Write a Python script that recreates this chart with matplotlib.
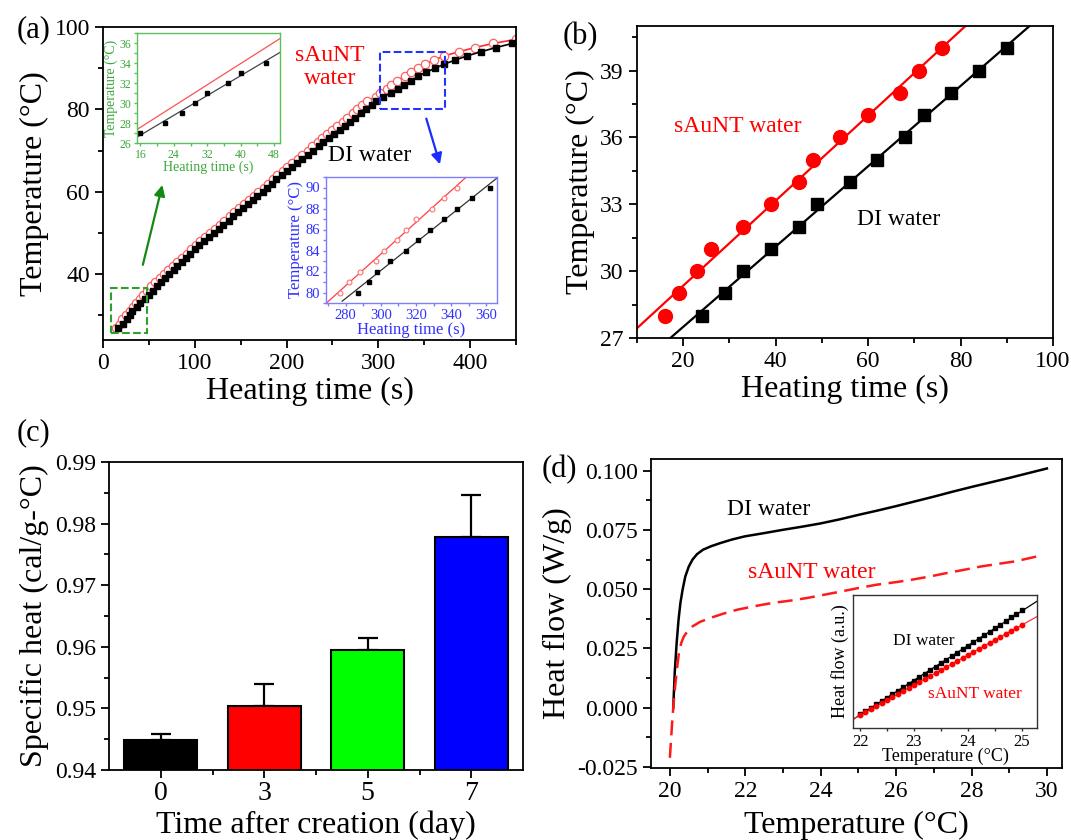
import numpy as np
import matplotlib
matplotlib.use("Agg")
import matplotlib.pyplot as plt
from matplotlib.patches import Rectangle
from matplotlib.ticker import MultipleLocator, FormatStrFormatter

plt.rcParams['font.family'] = ['Liberation Serif', 'DejaVu Serif']
plt.rcParams['axes.unicode_minus'] = False

# ---------------- data ----------------
# (a) heating curves: time (s) at which each integer temperature (°C) is reached
di_T = [27, 28, 29, 30, 31, 32, 33, 34, 35, 36, 37, 38, 39, 40, 41, 42, 43, 44, 45, 46,
        47, 48, 49, 50, 51, 52, 53, 54, 55, 56, 57, 58, 59, 60, 61, 62, 63, 64, 65, 66,
        67, 68, 69, 70, 71, 72, 73, 74, 75, 76, 77, 78, 79, 80, 81, 82, 83, 84, 85, 86,
        87, 88, 89, 90, 91, 92, 93, 94, 95, 96]
di_t = [16, 22, 26, 29, 32, 37, 40, 46, 50, 54, 59, 63, 68, 72, 77, 81, 86, 90, 95, 100,
        105, 110, 116, 121, 126, 131, 137, 142, 147, 152, 158, 163, 168, 174, 179, 184, 189, 195, 200, 206,
        211, 217, 223, 229, 235, 240, 246, 252, 258, 264, 269, 275, 281, 287, 293, 298, 305, 314, 321, 328,
        336, 343, 352, 362, 372, 384, 397, 412, 428, 446]
au_T = [27, 28, 29, 30, 31, 32, 33, 34, 35, 36, 37, 38, 39, 40, 41, 42, 43, 44, 45, 46,
        47, 48, 49, 50, 51, 52, 53, 54, 55, 56, 57, 58, 59, 60, 61, 62, 63, 64, 65, 66,
        67, 68, 69, 70, 71, 72, 73, 74, 75, 76, 77, 78, 79, 80, 81, 82, 83, 84, 85, 86,
        87, 88, 89, 90, 91, 92, 93, 94, 95, 96, 97]
au_t = [14, 18, 21, 25, 29, 33, 36, 40, 44, 48, 52, 57, 62, 67, 71, 76, 81, 86, 91, 96,
        101, 106, 111, 117, 122, 127, 132, 138, 143, 148, 154, 159, 164, 169, 175, 180, 185, 190, 196, 201,
        206, 212, 217, 223, 228, 234, 239, 244, 250, 255, 261, 266, 272, 277, 282, 288, 297, 302, 309, 314,
        320, 329, 336, 343, 351, 361, 372, 388, 405, 425, 450]

# (b) early heating
b_au_t = [16, 19, 23, 26, 33, 39, 45, 48, 54, 60, 67, 71, 76]
b_au_T = [28, 29, 30, 31, 32, 33, 34, 35, 36, 37, 38, 39, 40]
b_di_t = [24, 29, 33, 39, 45, 49, 56, 62, 68, 72, 78, 84, 90]
b_di_T = [28, 29, 30, 31, 32, 33, 34, 35, 36, 37, 38, 39, 40]

# (c) specific heat
c_days = ['0', '3', '5', '7']
c_vals = [0.9448, 0.9504, 0.9595, 0.9778]
c_errs = [0.0011, 0.0035, 0.0020, 0.0068]
c_colors = ['#000000', '#ff0000', '#00ff00', '#0000ff']

# (d) heat flow
d_di_x = [20.09, 20.13, 20.18, 20.23, 20.28, 20.34, 20.41, 20.5, 20.6, 20.72, 20.88, 21.1,
          21.34, 21.65, 21.98, 22.5, 23.0, 23.5, 24.0, 24.5, 25.0, 25.5, 26.0, 26.5, 27.0,
          27.5, 28.0, 28.5, 29.0, 29.5, 30.0]
d_di_y = [0.0, 0.015, 0.0273, 0.037, 0.0442, 0.050, 0.0554, 0.0595, 0.0625, 0.0648, 0.0667, 0.0682,
          0.0695, 0.0710, 0.0723, 0.0737, 0.0751, 0.0764, 0.0778, 0.0795, 0.0814, 0.0832, 0.0851,
          0.0871, 0.0891, 0.0912, 0.0932, 0.0951, 0.0970, 0.0990, 0.1010]
d_au_x = [20.0, 20.03, 20.06, 20.1, 20.14, 20.19, 20.24, 20.3, 20.37, 20.47, 20.6, 20.8, 21.06,
          21.4, 21.8, 22.3, 22.72, 23.2, 23.64, 24.1, 24.56, 25.0, 25.48, 26.0, 26.41, 26.9,
          27.33, 27.8, 28.25, 28.7, 29.17, 29.5, 29.86]
d_au_y = [-0.0212, -0.0140, -0.0065, 0.0020, 0.0090, 0.0165, 0.0230, 0.0272, 0.0300, 0.0323,
          0.0343, 0.0362, 0.0378, 0.0396, 0.0414, 0.0430, 0.0442, 0.0452, 0.0463, 0.0477,
          0.0491, 0.0505, 0.0519, 0.0530, 0.0540, 0.0554, 0.0568, 0.0582, 0.0596, 0.0607,
          0.0618, 0.0630, 0.0643]
# (d) inset (a.u.)
di_in_T = [22.0, 22.1, 22.2, 22.3, 22.4, 22.5, 22.6, 22.7, 22.8, 22.9, 23.0, 23.1, 23.2, 23.3,
           23.4, 23.5, 23.6, 23.7, 23.8, 23.9, 24.0, 24.1, 24.2, 24.3, 24.4, 24.5, 24.6, 24.7,
           24.8, 24.9, 25.0]
di_in_y = [0.103, 0.128, 0.153, 0.178, 0.204, 0.229, 0.254, 0.280, 0.305, 0.331, 0.356, 0.382,
           0.409, 0.435, 0.460, 0.486, 0.513, 0.539, 0.565, 0.591, 0.617, 0.644, 0.670, 0.697,
           0.723, 0.750, 0.778, 0.804, 0.831, 0.858, 0.885]
au_in_y = [0.099, 0.121, 0.143, 0.165, 0.188, 0.210, 0.232, 0.255, 0.277, 0.299, 0.322, 0.344,
           0.366, 0.389, 0.411, 0.434, 0.457, 0.480, 0.502, 0.525, 0.547, 0.570, 0.593, 0.616,
           0.638, 0.662, 0.685, 0.708, 0.731, 0.754, 0.777]

# ---------------- figure ----------------
W, H = 1071, 840
fig = plt.figure(figsize=(W / 100, H / 100), dpi=100)


def add_ax(l, t, r, b):
    return fig.add_axes([l / W, 1 - b / H, (r - l) / W, (b - t) / H])


TICK = 17
LAB = 23
ANN = 17


def style(ax, lw=1.3, size=TICK, color='black'):
    for s in ax.spines.values():
        s.set_linewidth(lw)
        s.set_color(color)
    ax.tick_params(which='major', direction='out', length=6, width=lw, labelsize=size,
                   colors=color, top=False, right=False)
    ax.tick_params(which='minor', direction='out', length=3.5, width=lw,
                   colors=color, top=False, right=False)


# ---- (a) ----
axa = add_ax(103, 27, 516, 340)
axa.plot(au_t, au_T, '-', color='#ff2a2a', lw=1.2, marker='o', ms=6, mfc='white',
         mec='#ff6060', mew=0.9, zorder=2)
axa.plot(di_t, di_T, '-', color='black', lw=1.2, marker='s', ms=5, mfc='black',
         mec='black', zorder=3)
axa.set_xlim(0, 450)
axa.set_ylim(24, 100)
axa.xaxis.set_major_locator(MultipleLocator(100))
axa.xaxis.set_minor_locator(MultipleLocator(50))
axa.yaxis.set_major_locator(MultipleLocator(20))
axa.yaxis.set_minor_locator(MultipleLocator(10))
style(axa)
axa.set_xlabel('Heating time (s)', fontsize=LAB, labelpad=2)
axa.set_ylabel('Temperature (°C)', fontsize=LAB, labelpad=4)
axa.add_patch(Rectangle((9, 25.6), 39, 11.1, fill=False, ls='--', lw=1.5, ec='#2ca02c', zorder=4))
axa.add_patch(Rectangle((302, 80), 71, 14, fill=False, ls='--', lw=1.5, ec='#2233ff', zorder=4))
axa.annotate('', xy=(65.4, 62.3), xytext=(42.7, 41.6),
             arrowprops=dict(arrowstyle='-|>', color='#138a13', lw=1.6, mutation_scale=16))
axa.annotate('', xy=(368, 66), xytext=(351.4, 78.4),
             arrowprops=dict(arrowstyle='-|>', color='#1a2cff', lw=1.6, mutation_scale=16))
axa.text(247, 93.0, 'sAuNT', color='#ff0000', fontsize=ANN, ha='center', va='center')
axa.text(247, 87.4, 'water', color='#ff0000', fontsize=ANN, ha='center', va='center')
axa.text(290, 68.9, 'DI water', color='black', fontsize=ANN, ha='center', va='center')
fig.text(34 / W, 1 - 30 / H, '(a)', fontsize=22, ha='center', va='center')

# green inset
gcol_sp = '#5cbf5c'
gcol = '#3aa83a'
axg = add_ax(137, 33, 280, 143)
dt = np.array(di_t); dT = np.array(di_T); at = np.array(au_t); aT = np.array(au_T)
mg_d = (dT <= 34)
mg_a = (aT <= 36)
pd_ = np.polyfit(dt[mg_d], dT[mg_d], 1)
pa_ = np.polyfit(at[mg_a], aT[mg_a], 1)
xx = np.array([15.2, 49.4])
axg.plot(xx, np.polyval(pa_, xx), color='#ff5050', lw=0.9)
axg.plot(xx, np.polyval(pd_, xx), color='#444444', lw=0.9)
axg.plot(dt[mg_d], dT[mg_d], 's', color='black', ms=3)
axg.set_xlim(15.2, 49.4)
axg.set_ylim(26, 37)
axg.xaxis.set_major_locator(MultipleLocator(8))
axg.xaxis.set_minor_locator(MultipleLocator(4))
axg.yaxis.set_major_locator(MultipleLocator(2))
axg.yaxis.set_minor_locator(MultipleLocator(1))
style(axg, lw=1.0, size=8.5, color=gcol_sp)
axg.tick_params(which='both', labelcolor=gcol, length=2.5)
axg.tick_params(which='major', pad=1.5)
axg.set_xlabel('Heating time (s)', fontsize=10, color=gcol, labelpad=0)
axg.set_ylabel('Temperature (°C)', fontsize=10, color=gcol, labelpad=1)

# blue inset
bcol_sp = '#7d7dff'
bcol = '#3030ff'
axbl = add_ax(326, 177, 497, 303)
mb_d = (dT >= 80) & (dT <= 90)
mb_a = (aT >= 80) & (aT <= 90)
pbd = np.polyfit(dt[mb_d], dT[mb_d], 1)
pba = np.polyfit(at[mb_a], aT[mb_a], 1)
xa = np.array([268.8, 366])
xd = np.array([278, 372])
axbl.plot(xa, np.polyval(pba, xa), color='#ff4040', lw=0.9)
axbl.plot(xd, np.polyval(pbd, xd), color='#333333', lw=0.9)
axbl.plot(at[mb_a], aT[mb_a], 'o', ms=3.5, mfc='white', mec='#ff7070', mew=0.8)
axbl.plot(dt[mb_d], dT[mb_d], 's', ms=3.2, color='black')
axbl.set_xlim(268.8, 366)
axbl.set_ylim(79, 91)
axbl.xaxis.set_major_locator(MultipleLocator(20))
axbl.xaxis.set_minor_locator(MultipleLocator(10))
axbl.yaxis.set_major_locator(MultipleLocator(2))
axbl.yaxis.set_minor_locator(MultipleLocator(1))
style(axbl, lw=1.0, size=10.5, color=bcol_sp)
axbl.tick_params(which='both', labelcolor=bcol, length=2.5)
axbl.tick_params(which='major', pad=1.5)
axbl.set_xlabel('Heating time (s)', fontsize=12, color=bcol, labelpad=0)
axbl.set_ylabel('Temperature (°C)', fontsize=12, color=bcol, labelpad=1)

# ---- (b) ----
axb = add_ax(637, 26, 1053, 338)
pbr = np.polyfit(b_au_t, b_au_T, 1)
pbk = np.polyfit(b_di_t, b_di_T, 1)
xl = np.array([0, 110])
axb.plot(xl, np.polyval(pbr, xl), color='#ff0000', lw=1.6)
axb.plot(xl, np.polyval(pbk, xl), color='black', lw=1.6)
axb.plot(b_au_t, b_au_T, 'o', color='#ff0000', ms=10)
axb.plot(b_di_t, b_di_T, 's', color='black', ms=8.5)
axb.set_xlim(10, 100)
axb.set_ylim(27, 41)
axb.xaxis.set_major_locator(MultipleLocator(20))
axb.xaxis.set_minor_locator(MultipleLocator(10))
axb.yaxis.set_major_locator(MultipleLocator(3))
axb.yaxis.set_minor_locator(MultipleLocator(1.5))
style(axb)
axb.set_xlabel('Heating time (s)', fontsize=LAB, labelpad=2)
axb.set_ylabel('Temperature (°C)', fontsize=LAB, labelpad=4)
axb.text(31.9, 36.47, 'sAuNT water', color='#ff0000', fontsize=ANN, ha='center', va='center')
axb.text(66.7, 32.3, 'DI water', color='black', fontsize=ANN, ha='center', va='center')
fig.text(580 / W, 1 - 37 / H, '(b)', fontsize=22, ha='center', va='center')

# ---- (c) ----
axc = add_ax(109, 462, 523, 770)
xc = np.arange(len(c_days))
axc.bar(xc, c_vals, width=0.71, color=c_colors, edgecolor='black', linewidth=1.5, zorder=2)
axc.errorbar(xc, c_vals, yerr=[np.zeros(len(c_errs)), c_errs], fmt='none', ecolor='black',
             elinewidth=1.6, capsize=7, capthick=1.6, zorder=1)
axc.set_xlim(-0.5, 3.5)
axc.set_ylim(0.94, 0.99)
axc.set_xticks(xc)
axc.set_xticklabels(c_days)
axc.set_xticks(xc[:-1] + 0.5, minor=True)
axc.yaxis.set_major_locator(MultipleLocator(0.01))
axc.yaxis.set_minor_locator(MultipleLocator(0.005))
axc.yaxis.set_major_formatter(FormatStrFormatter('%.2f'))
style(axc)
axc.tick_params(axis='x', which='major', labelsize=20, pad=2)
axc.set_xlabel('Time after creation (day)', fontsize=LAB, labelpad=3)
axc.set_ylabel('Specific heat (cal/g-°C)', fontsize=LAB, labelpad=4)
fig.text(34 / W, 1 - 433 / H, '(c)', fontsize=22, ha='center', va='center')

# ---- (d) ----
axd = add_ax(651, 459, 1062, 768)
axd.plot(d_di_x, d_di_y, '-', color='black', lw=1.8)
axd.plot(d_au_x, d_au_y, '--', color='#ff1a1a', lw=1.8, dashes=(6, 3))
axd.set_xlim(19.5, 30.4)
axd.set_ylim(-0.0255, 0.105)
axd.xaxis.set_major_locator(MultipleLocator(2))
axd.xaxis.set_minor_locator(MultipleLocator(1))
axd.yaxis.set_major_locator(MultipleLocator(0.025))
axd.yaxis.set_minor_locator(MultipleLocator(0.0125))
axd.yaxis.set_major_formatter(FormatStrFormatter('%.3f'))
style(axd)
axd.set_xlabel('Temperature (°C)', fontsize=LAB, labelpad=6)
axd.set_ylabel('Heat flow (W/g)', fontsize=LAB, labelpad=4)
axd.text(22.62, 0.0835, 'DI water', color='black', fontsize=ANN, ha='center', va='center')
axd.text(23.76, 0.057, 'sAuNT water', color='#ff0000', fontsize=ANN, ha='center', va='center')
fig.text(559 / W, 1 - 470 / H, '(d)', fontsize=22, ha='center', va='center')

# (d) inset
axi = add_ax(853, 595, 1037, 728)
pik = np.polyfit(di_in_T, di_in_y, 1)
pir = np.polyfit(di_in_T, au_in_y, 1)
xi = np.array([21.87, 25.28])
axi.plot(xi, np.polyval(pik, xi), color='black', lw=0.9)
axi.plot(xi, np.polyval(pir, xi), color='#ff3030', lw=0.9)
axi.plot(di_in_T, di_in_y, 's', color='black', ms=3)
axi.plot(di_in_T, au_in_y, 'o', color='#ff0000', ms=3.2)
axi.set_xlim(21.87, 25.28)
axi.set_ylim(0, 1)
axi.xaxis.set_major_locator(MultipleLocator(1))
axi.xaxis.set_minor_locator(MultipleLocator(0.5))
axi.set_yticks([])
style(axi, lw=1.0, size=12, color='#333333')
axi.tick_params(which='both', length=2.5, labelcolor='black')
axi.tick_params(which='major', pad=1.5)
axi.set_xlabel('Temperature (°C)', fontsize=13, labelpad=-1)
axi.set_ylabel('Heat flow (a.u.)', fontsize=13, labelpad=3)
axi.text(23.18, 0.654, 'DI water', color='black', fontsize=12.5, ha='center', va='center')
axi.text(24.13, 0.256, 'sAuNT water', color='#ff0000', fontsize=12.5, ha='center', va='center')

fig.savefig('out.png', dpi=100, facecolor='white')
